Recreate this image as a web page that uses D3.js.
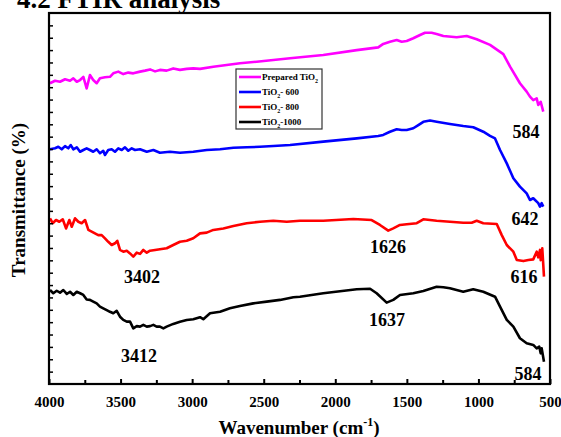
<!DOCTYPE html>
<html><head><meta charset="utf-8">
<script src="https://cdn.jsdelivr.net/npm/d3@7"></script>
<style>body{margin:0;background:#fff}svg{display:block}text{font-family:"Liberation Serif","Times New Roman",serif;font-weight:bold}</style>
</head><body><svg id="c" width="561" height="437"></svg>
<script>
// Wavenumber (cm-1) / transmittance (arbitrary offset units)
const wPrepared = [3993,3958,3923,3888,3853,3830,3806,3783,3760,3737,3714,3691,3667,3644,3609,3574,3551,3516,3481,3446,3411,3364,3329,3294,3259,3225,3178,3132,3085,3038,2992,2945,2852,2759,2666,2549,2433,2316,2084,1850,1700,1665,1618,1571,1536,1501,1455,1408,1373,1327,1292,1245,1152,1082,1012,919,826,779,710,663,640,617,593,582,565,547];
const tPrepared = [121.6,122.6,122.2,123.2,122.6,123.6,122.2,122.9,124.2,119.5,124.9,122.9,121.6,123.6,124.0,124.2,125.6,126.3,125.3,125.9,125.6,126.3,126.7,127.2,126.4,127.0,126.7,127.6,127.0,127.4,127.6,127.4,128.3,129.0,129.7,130.3,131.0,131.7,133.0,135.0,136.1,137.5,138.4,139.1,138.4,138.7,139.8,141.1,142.0,142.0,141.5,140.7,140.2,140.7,139.4,137.1,133.4,128.3,121.6,118.2,116.2,114.8,115.5,112.8,114.1,110.1];

const w600 = [3993,3958,3935,3911,3888,3865,3848,3830,3806,3783,3760,3737,3714,3691,3667,3644,3621,3609,3586,3562,3539,3516,3492,3469,3446,3422,3399,3364,3317,3271,3225,3155,3085,2992,2898,2805,2712,2619,2526,2433,2316,2084,1850,1700,1665,1618,1571,1536,1501,1455,1420,1385,1338,1292,1199,1106,1036,966,919,884,849,802,756,710,663,640,617,582,570,558,547];
const t600 = [94.9,95.3,95.9,94.9,96.2,95.3,96.6,94.9,95.7,93.9,94.6,95.3,94.6,93.9,94.9,93.3,94.3,92.6,94.6,94.9,93.9,95.3,94.6,95.7,94.3,95.3,94.6,94.9,93.9,94.6,93.5,93.9,93.5,93.9,94.6,94.9,95.5,95.7,95.9,96.2,96.6,98.0,99.3,100.3,100.7,102.0,103.0,102.7,102.7,103.4,104.7,106.0,106.5,106.0,105.1,104.3,103.8,102.0,100.3,99.3,94.6,89.2,83.2,79.8,77.1,74.4,75.1,73.1,71.7,73.1,71.7];

const w800 = [3993,3974,3951,3928,3904,3881,3858,3841,3818,3795,3772,3748,3725,3702,3679,3656,3632,3609,3586,3562,3539,3523,3504,3481,3457,3434,3411,3387,3364,3341,3317,3294,3259,3225,3178,3132,3085,3038,2992,2945,2898,2852,2782,2712,2619,2526,2433,2339,2247,2084,1874,1746,1688,1630,1595,1548,1501,1431,1385,1292,1199,1106,1047,1012,966,872,837,802,756,732,686,651,617,593,582,570,565,554,542];
const t800 = [67.0,65.0,66.3,65.6,66.6,62.9,66.3,63.6,67.0,65.6,65.0,66.3,62.3,61.6,60.9,60.2,60.2,58.9,57.5,56.2,56.9,57.9,54.2,53.5,53.9,52.8,51.5,53.1,52.6,54.2,53.1,53.9,54.2,54.5,54.9,56.2,57.5,57.9,58.9,60.9,61.2,62.3,62.9,63.9,65.0,65.6,66.0,65.6,66.0,66.0,66.7,66.3,64.3,62.0,62.9,64.3,64.6,65.0,66.6,66.0,65.6,65.2,65.2,66.0,65.0,64.7,60.2,56.2,53.5,50.1,49.7,50.1,50.4,53.5,51.2,54.2,50.1,54.9,43.4];

const w1000 = [3993,3970,3946,3923,3900,3876,3853,3830,3806,3783,3760,3737,3714,3691,3667,3644,3621,3597,3574,3551,3527,3504,3481,3457,3434,3411,3387,3364,3341,3317,3294,3271,3248,3225,3201,3178,3132,3085,3038,2992,2945,2922,2875,2805,2736,2666,2573,2479,2386,2293,2247,2084,1850,1757,1711,1641,1595,1548,1455,1385,1292,1245,1199,1106,1036,966,884,849,802,756,710,663,617,593,575,565,558,542];
const t1000 = [38.0,36.7,37.7,36.9,38.0,36.4,37.3,36.0,37.3,36.7,36.0,34.2,34.0,33.3,32.6,31.3,30.6,29.9,29.2,28.6,29.6,27.2,25.9,25.2,25.2,22.5,23.4,23.2,23.9,23.2,23.4,23.9,23.2,23.2,22.5,23.2,24.3,25.2,25.9,26.2,27.0,26.2,28.6,29.2,30.6,31.5,32.6,33.3,34.0,35.1,35.3,36.7,38.3,38.5,36.7,32.9,34.0,36.0,36.7,37.6,39.3,39.1,38.7,37.3,38.3,37.3,35.3,31.3,25.9,23.2,18.5,16.5,15.8,14.4,15.1,12.4,14.4,9.0];

const seriesNames = ["Prepared TiO|2", "TiO|2|-  600", "TiO|2|-  800", "TiO|2|-1000"];
const seriesColors = ["#ff00ff", "#0000ff", "#ff0000", "#000000"];
const xTicks = [4000,3500,3000,2500,2000,1500,1000,500];
const xMinorTicks = [3750,3250,2750,2250,1750,1250,750];

const annLabels = ["584","642","616","584","1626","1637","3402","3412"];
const annW = [668,675,682,654,1632,1639,3350,3371];
const annT = [99.5,64.3,40.8,1.6,53.0,23.4,40.8,8.9];

const FONT = "'Liberation Serif', 'Times New Roman', serif";
const svg = d3.select("#c").attr("font-family", FONT).attr("font-weight", "bold");
const L = 49, R = 550, T = 13, B = 384;
const x = d3.scaleLinear().domain([4000, 500]).range([L, R]);
const y = d3.scaleLinear().domain([0, 150]).range([B, T]);

// title (partly clipped at top, as in the source)
svg.append("text").attr("x", 17).attr("y", 8).attr("font-size", 27).attr("font-family", FONT).text("4.2  FTIR analysis");

// curves
const series = [[wPrepared,tPrepared],[w600,t600],[w800,t800],[w1000,t1000]];
const line = d3.line().x(d => x(d[0])).y(d => y(d[1]));
series.forEach((s, i) => {
  const pts = s[0].map((w, j) => [w, s[1][j]]);
  svg.append("path").datum(pts).attr("d", line).attr("fill", "none")
    .attr("stroke", seriesColors[i]).attr("stroke-width", 2.6).attr("stroke-linejoin", "round");
});

// axes
const gx = svg.append("g").attr("transform", `translate(0,${B})`)
  .call(d3.axisBottom(x).tickValues(xTicks).tickSizeInner(-5).tickSizeOuter(0).tickPadding(12).tickFormat(d3.format("d")));
gx.attr("font-family", FONT);
gx.select(".domain").remove();
gx.selectAll("line").attr("stroke-width", 2);
gx.selectAll("text").attr("font-size", 15).attr("font-family", FONT).attr("font-weight", "bold").attr("fill", "#000");
const gxm = svg.append("g").attr("transform", `translate(0,${B})`)
  .call(d3.axisBottom(x).tickValues(xMinorTicks).tickSizeInner(-4).tickSizeOuter(0).tickFormat(""));
gxm.select(".domain").remove();
gxm.selectAll("line").attr("stroke-width", 2);

const gy = svg.append("g").attr("transform", `translate(${L},0)`)
  .call(d3.axisLeft(y).tickValues(d3.range(5, 150, 5)).tickSizeInner(-4).tickSizeOuter(0).tickFormat(""));
gy.select(".domain").remove();
gy.selectAll("line").attr("stroke-width", 1.5);

svg.append("rect").attr("x", L).attr("y", T).attr("width", R - L).attr("height", B - T)
  .attr("fill", "none").attr("stroke", "#000").attr("stroke-width", 2.2);

// axis titles
const xt = svg.append("text").attr("x", 299).attr("y", 434).attr("text-anchor", "middle").attr("font-size", 19).attr("font-family", FONT);
xt.append("tspan").text("Wavenumber (cm");
xt.append("tspan").attr("dy", -8).attr("font-size", 12).text("-1");
xt.append("tspan").attr("dy", 8).text(")");
svg.append("text").attr("transform", "translate(25,200) rotate(-90)").attr("text-anchor", "middle")
  .attr("font-size", 19).attr("font-family", FONT).text("Transmittance (%)");

// annotations
annLabels.forEach((t, i) => {
  svg.append("text").attr("x", x(annW[i])).attr("y", y(annT[i])).attr("text-anchor", "middle")
    .attr("font-size", 18).attr("font-family", FONT).text(t);
});

// legend
const lg = svg.append("g").attr("transform", "translate(236,69)");
lg.append("rect").attr("width", 86).attr("height", 60).attr("fill", "#fff").attr("stroke", "#333").attr("stroke-width", 1.2);
seriesNames.forEach((n, i) => {
  const yy = 8 + i * 15;
  lg.append("line").attr("x1", 3).attr("x2", 25).attr("y1", yy).attr("y2", yy)
    .attr("stroke", seriesColors[i]).attr("stroke-width", 2.6);
  const parts = n.split("|");
  const t = lg.append("text").attr("x", 26).attr("y", yy + 3).attr("font-size", 9).attr("font-family", FONT);
  t.append("tspan").text(parts[0]);
  if (parts.length > 1) {
    t.append("tspan").attr("dy", 2.5).attr("font-size", 6).text(parts[1]);
    if (parts[2]) t.append("tspan").attr("dy", -2.5).text(parts[2]);
  }
});
</script></body></html>
